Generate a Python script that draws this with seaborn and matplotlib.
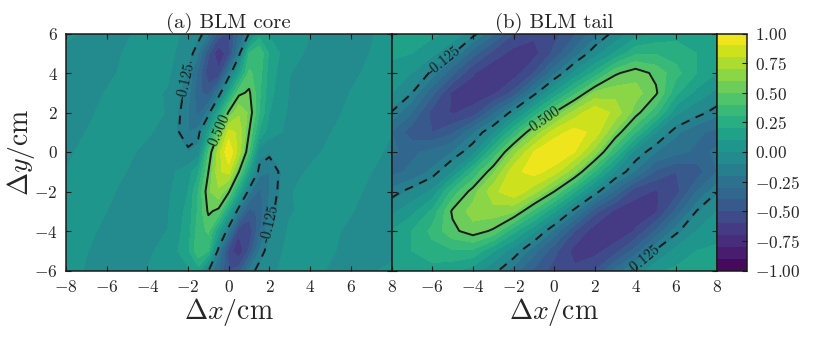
import numpy as np
import matplotlib
matplotlib.use("Agg")
import matplotlib.pyplot as plt
import seaborn as sns

sns.set_theme(style="ticks")
plt.rcParams["font.family"] = ["cmr10", "DejaVu Sans"]
plt.rcParams["mathtext.fontset"] = "cm"
plt.rcParams["axes.formatter.use_mathtext"] = True
plt.rcParams["axes.unicode_minus"] = True

# values, top row is y = 6
y_vals = [6, 5, 4, 3, 2, 1, 0, -1, -2, -3, -4, -5, -6]

core_x = [-8, -7, -6, -5, -4, -3, -2, -1.5, -1, -0.5, 0, 0.5, 1, 1.5, 2, 3, 4, 5, 6, 7, 8]
core_z = [
    [.02, -.01, -.04, -.01, .03, .03, -.02, -.07, -.2, -.45, -.5, -.3, -.12, .15, .08, .03, .001, -.03, -.03, -.006, .03],
    [-.03, -.04, -.03, .01, .04, .03, -.06, -.2, -.48, -.68, -.55, -.17, .3, .38, .18, .02, -.01, -.04, -.03, .003, .03],
    [-.04, -.04, -.02, .02, .04, .02, -.12, -.33, -.58, -.58, -.2, .12, .42, .35, .15, .002, -.03, -.04, -.015, .015, .03],
    [-.04, -.03, .005, .03, .03, -.01, -.16, -.38, -.44, -.2, .15, .47, .52, .32, .13, -.008, -.04, -.03, .002, .03, .03],
    [-.04, -.015, .02, .04, .03, -.006, -.2, -.33, -.17, .17, .52, .68, .58, .3, .1, -.02, -.04, -.02, .015, .03, .02],
    [-.03, .001, .03, .04, .01, -.03, -.2, -.16, .12, .5, .84, .78, .5, .18, .05, -.03, -.03, -.002, .03, .03, .002],
    [-.015, .02, .04, .015, -.02, -.04, -.1, -.06, .4, .75, 1.0, .75, .4, -.06, -.1, -.04, -.02, .015, .04, .02, -.015],
    [.002, .03, .03, -.002, -.03, -.03, .05, .18, .5, .78, .84, .5, .12, -.16, -.2, -.03, .01, .04, .03, .001, -.03],
    [.02, .03, .015, -.02, -.04, -.02, .1, .3, .58, .68, .52, .17, -.17, -.33, -.2, -.006, .03, .04, .02, -.015, -.04],
    [.03, .03, .0, -.03, -.04, -.008, .13, .32, .52, .47, .15, -.2, -.44, -.38, -.16, -.01, .03, .03, .005, -.03, -.04],
    [.03, .015, -.015, -.04, -.03, .002, .15, .35, .42, .12, -.2, -.58, -.58, -.33, -.12, .02, .04, .02, -.02, -.04, -.04],
    [.03, .003, -.03, -.04, -.01, .02, .18, .38, .3, -.17, -.55, -.68, -.48, -.2, -.06, .03, .04, .01, -.03, -.04, -.03],
    [.03, -.006, -.03, -.03, .001, .03, .08, .15, -.12, -.3, -.5, -.45, -.2, -.07, -.02, .03, .03, -.01, -.04, -.01, .02],
]

tail_x = [-8, -7, -6, -5, -4, -3, -2, -1, 0, 1, 2, 3, 4, 5, 6, 7, 8]
tail_z = [
    [.11, .14, .12, .08, -.08, -.28, -.5, -.58, -.54, -.42, -.25, -.08, .05, .12, .16, .15, .10],
    [.11, .10, .03, -.11, -.36, -.54, -.64, -.64, -.47, -.26, -.05, .11, .28, .29, .26, .20, .12],
    [.08, .0, -.15, -.38, -.59, -.69, -.66, -.5, -.23, .02, .23, .48, .56, .47, .33, .20, .10],
    [.0, -.12, -.37, -.62, -.65, -.63, -.47, -.17, .11, .36, .62, .66, .64, .52, .22, .07, -.03],
    [-.13, -.3, -.54, -.61, -.57, -.33, -.07, .21, .50, .74, .88, .77, .55, .33, .02, -.08, -.17],
    [-.30, -.46, -.5, -.42, -.22, -.02, .29, .62, .85, .94, .87, .58, .30, .0, -.18, -.28, -.33],
    [-.29, -.32, -.27, -.2, -.05, .30, .65, .90, 1.0, .90, .65, .30, -.05, -.2, -.27, -.32, -.29],
    [-.33, -.28, -.18, .0, .30, .58, .87, .94, .85, .62, .29, -.02, -.22, -.42, -.5, -.46, -.30],
    [-.17, -.08, .02, .33, .55, .77, .88, .74, .50, .21, -.07, -.33, -.57, -.61, -.54, -.3, -.13],
    [-.03, .07, .22, .52, .64, .66, .62, .36, .11, -.17, -.47, -.63, -.65, -.62, -.37, -.12, .0],
    [.10, .20, .33, .47, .56, .48, .23, .02, -.23, -.5, -.66, -.69, -.59, -.38, -.15, .0, .08],
    [.12, .20, .26, .29, .28, .11, -.05, -.26, -.47, -.64, -.64, -.54, -.36, -.11, .03, .10, .11],
    [.10, .15, .16, .12, .05, -.08, -.25, -.42, -.54, -.58, -.5, -.28, -.08, .08, .12, .14, .11],
]

fill_levels = np.linspace(-1, 1, 21)
line_levels = [-0.125, 0.5]
line_names = {-0.125: "-0.125", 0.5: "0.500"}
x_ticks = [-8, -6, -4, -2, 0, 2, 4, 6, 8]
y_ticks = [-6, -4, -2, 0, 2, 4, 6]
bar_ticks = [-1, -0.75, -0.5, -0.25, 0, 0.25, 0.5, 0.75, 1]
bar_labels = ["$-1.00$", "$-0.75$", "$-0.50$", "$-0.25$", "$0.00$", "$0.25$", "$0.50$", "$0.75$", "$1.00$"]

W, H = 830, 338
cmap = sns.color_palette("viridis", as_cmap=True)

fig = plt.figure(figsize=(W / 100, H / 100), dpi=100)
ax1 = fig.add_axes([66 / W, (H - 270.5) / H, 325.5 / W, 237 / H])
ax2 = fig.add_axes([391.5 / W, (H - 270.5) / H, 325.5 / W, 237 / H])
cax = fig.add_axes([717 / W, (H - 270.5) / H, 30 / W, 237 / H])


def draw_panel(ax, xs, zs, title, spots):
    cf = ax.contourf(xs, y_vals, np.array(zs), levels=fill_levels, cmap=cmap, vmin=-1, vmax=1)
    cs = ax.contour(xs, y_vals, np.array(zs), levels=line_levels, colors="k", linewidths=1.4,
                    linestyles=[(0, (4.5, 3.5)), "solid"])
    ax.clabel(cs, fmt=line_names, fontsize=10.5, manual=spots, inline=True, inline_spacing=0)
    ax.set_xlim(-8, 8)
    ax.set_ylim(-6, 6)
    ax.set_xticks(x_ticks)
    ax.set_yticks(y_ticks)
    ax.set_axisbelow(False)
    ax.tick_params(direction="in", top=True, right=True, length=3.6, width=0.8, labelsize=12.5, pad=6, color="k")
    ax.set_title(title, fontsize=15, pad=4)
    ax.set_xlabel(r"$\Delta x/\mathrm{cm}$", fontsize=20, labelpad=1)
    for s in ax.spines.values():
        s.set_linewidth(1.1)
        s.set_color("k")
    return cf


cf = draw_panel(ax1, core_x, core_z, "(a) BLM core", [(-2.2, 3.6), (-0.4, 1.1), (2.0, -3.6)])
draw_panel(ax2, tail_x, tail_z, "(b) BLM tail", [(-5.4, 4.6), (-0.5, 1.7), (4.3, -5.3)])
ax1.set_ylabel(r"$\Delta y/\mathrm{cm}$", fontsize=20, labelpad=-2)
ax2.tick_params(labelleft=False)
# the -8 of the right panel would sit on the 8 of the left one
ax2.xaxis.get_major_ticks()[0].label1.set_visible(False)

cb = fig.colorbar(cf, cax=cax, ticks=bar_ticks)
cb.ax.set_yticklabels(bar_labels)
cb.ax.set_axisbelow(False)
cb.ax.tick_params(direction="in", length=3.6, width=0.8, labelsize=12.5, pad=6, color="k")
cb.outline.set_linewidth(1.1)
cb.outline.set_edgecolor("k")

fig.savefig("out.png", dpi=100)
